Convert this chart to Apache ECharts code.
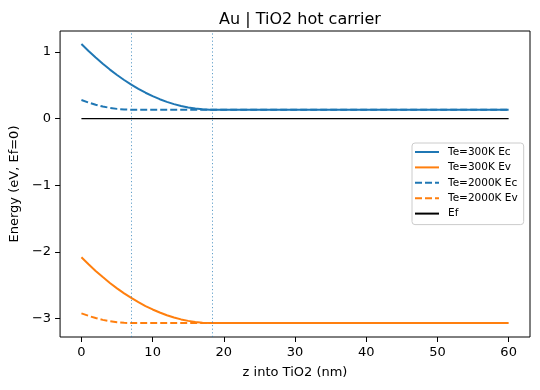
<!DOCTYPE html>
<html><head><meta charset="utf-8">
<script src="https://cdn.jsdelivr.net/npm/echarts@6/dist/echarts.min.js"></script>
<style>html,body{margin:0;padding:0;background:#fff}#c{width:540px;height:390px}</style>
</head><body><div id="c"></div>
<script>
const z = [0,1,2,3,4,5,6,7,8,9,10,11,12,13,14,15,16,17,18,19,20,30,40,50,60];
const ec300 = [1.120,1.015,0.916,0.824,0.736,0.655,0.580,0.511,0.447,0.389,0.338,0.292,0.252,0.218,0.189,0.167,0.151,0.140,0.135,0.135,0.135,0.135,0.135,0.135,0.135];
const ev300 = [-2.080,-2.185,-2.284,-2.376,-2.464,-2.545,-2.620,-2.689,-2.753,-2.811,-2.862,-2.908,-2.948,-2.982,-3.011,-3.033,-3.049,-3.060,-3.065,-3.065,-3.065,-3.065,-3.065,-3.065,-3.065];
const ec2000 = [0.280,0.242,0.209,0.182,0.162,0.147,0.138,0.135,0.135,0.135,0.135,0.135,0.135,0.135,0.135,0.135,0.135,0.135,0.135,0.135,0.135,0.135,0.135,0.135,0.135];
const ev2000 = [-2.920,-2.958,-2.991,-3.018,-3.038,-3.053,-3.062,-3.065,-3.065,-3.065,-3.065,-3.065,-3.065,-3.065,-3.065,-3.065,-3.065,-3.065,-3.065,-3.065,-3.065,-3.065,-3.065,-3.065,-3.065];
const ef = [0,0,0,0,0,0,0,0,0,0,0,0,0,0,0,0,0,0,0,0,0,0,0,0,0];
const vlines = [7.0, 18.35];
const xTicks = [0,10,20,30,40,50,60];
const yTicks = [-3,-2,-1,0,1];
const names = ['Te=300K Ec','Te=300K Ev','Te=2000K Ec','Te=2000K Ev','Ef'];

const pair = (ys) => z.map((v,i)=>[v,ys[i]]);
const FONT = 'DejaVu Sans';
const blue = '#1f77b4', orange = '#ff7f0e';
const dash = [7,3];
function line(name, ys, color, type, width) {
  return {name, type:'line', data: pair(ys), showSymbol:false, symbol:'none', smooth:false,
    lineStyle:{color, width, type}, itemStyle:{color}, animation:false, silent:true};
}
const series = [
  line(names[0], ec300, blue, 'solid', 2),
  line(names[1], ev300, orange, 'solid', 2),
  line(names[2], ec2000, blue, dash, 2),
  line(names[3], ev2000, orange, dash, 2),
  line(names[4], ef, '#000', 'solid', 1.2),
];
series.push({type:'line', data:[], silent:true, animation:false, color:'rgba(31,119,180,0.7)',
  markLine:{silent:true, symbol:['none','none'], label:{show:false},
    lineStyle:{color:'rgba(31,119,180,0.7)', width:1, type:[1.2,2.4]},
    emphasis:{disabled:true},
    data: vlines.map(v=>({xAxis:v, lineStyle:{color:'rgba(31,119,180,0.7)'}}))}});

const chart = echarts.init(document.getElementById('c'), null, {renderer:'canvas'});
chart.setOption({
  animation:false,
  textStyle:{fontFamily:FONT},
  title:{text:'Au | TiO2 hot carrier', left:295, top:7, textAlign:'center',
    textStyle:{fontFamily:FONT, fontSize:16, fontWeight:'normal', color:'#000'}},
  grid:{left:60, top:31, right:10, bottom:53, show:true, borderColor:'#000', borderWidth:1, backgroundColor:'transparent'},
  legend:{data:names, orient:'vertical', left:412, top:143, itemWidth:24, itemHeight:12, itemGap:3.4,
    padding:[3,6,5,2], borderColor:'#ccc', borderWidth:1, borderRadius:3, backgroundColor:'#fff',
    itemStyle:{opacity:0, color:'rgba(0,0,0,0)', borderWidth:0},
    textStyle:{fontFamily:FONT, fontSize:10.5, color:'#000', padding:[0,0,0,4], lineHeight:12}},
  xAxis:{type:'value', min:-3, max:63,
    name:'z into TiO2 (nm)', nameLocation:'middle', nameGap:29,
    nameTextStyle:{fontFamily:FONT, fontSize:13, color:'#000'},
    axisLine:{show:false, onZero:false}, splitLine:{show:false},
    axisTick:{show:true, length:5, lineStyle:{color:'#000'}, customValues:xTicks},
    axisLabel:{fontFamily:FONT, fontSize:13, color:'#000', margin:9, customValues:xTicks}},
  yAxis:{type:'value', min:-3.275, max:1.315,
    name:'Energy (eV, Ef=0)', nameLocation:'middle', nameGap:34,
    nameTextStyle:{fontFamily:FONT, fontSize:13, color:'#000'},
    axisLine:{show:false, onZero:false}, splitLine:{show:false},
    axisTick:{show:true, length:5, lineStyle:{color:'#000'}, customValues:yTicks},
    axisLabel:{fontFamily:FONT, fontSize:13, color:'#000', margin:9, customValues:yTicks,
      formatter:(v)=>String(v).replace('-','\u2212')}},
  series
});
</script></body></html>
